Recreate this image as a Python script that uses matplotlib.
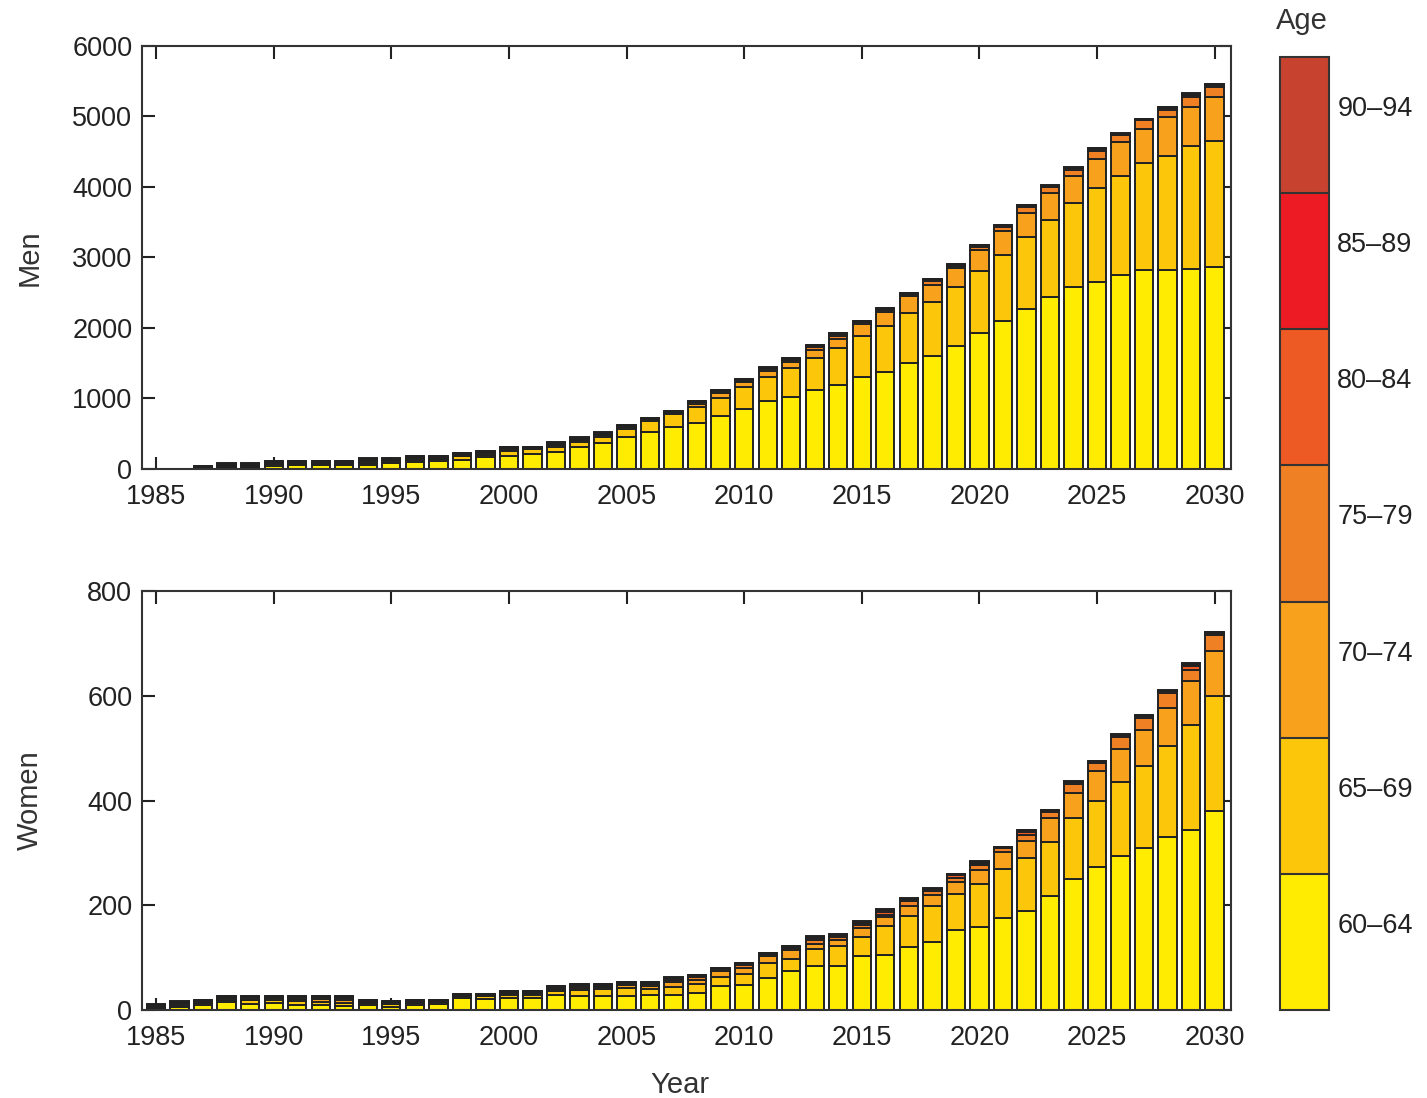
import numpy as np
import matplotlib.pyplot as plt
from matplotlib.colors import ListedColormap, BoundaryNorm
import matplotlib as mpl

plt.rcParams['font.family'] = ['Liberation Sans', 'DejaVu Sans']

years = np.arange(1985, 2031)
ages = ['60–64', '65–69', '70–74', '75–79', '80–84', '85–89', '90–94']
colors = ['#ffec00', '#fcc70a', '#f7a11c', '#f08024', '#ee5a24', '#ed1c24', '#c8432f']

# men, by age group (1985..2030)
men_60 = [0, 0, 15, 25, 25, 40, 50, 50, 50, 60, 80, 100, 110, 128, 165, 190, 213, 236, 307, 369,
          449, 520, 591, 648, 747, 851, 960, 1017, 1125, 1196, 1300, 1371, 1504, 1608, 1749, 1924,
          2104, 2270, 2444, 2577, 2657, 2757, 2823, 2823, 2832, 2861]
men_65 = [0, 0, 10, 15, 15, 30, 20, 20, 20, 30, 25, 30, 30, 60, 40, 60, 71, 81, 81, 90,
          118, 166, 189, 227, 260, 307, 350, 416, 445, 520, 591, 662, 704, 766, 837, 880,
          936, 1016, 1088, 1196, 1324, 1404, 1513, 1612, 1745, 1796]
men_70 = [0, 0, 8, 12, 12, 18, 15, 15, 15, 20, 18, 20, 15, 15, 20, 25, 15, 20, 20, 20,
          25, 20, 20, 45, 66, 71, 85, 89, 118, 128, 166, 189, 241, 241, 260, 302,
          341, 345, 383, 388, 416, 482, 487, 553, 562, 624]
men_75 = [0, 0, 6, 10, 10, 12, 10, 10, 10, 18, 12, 14, 12, 10, 12, 20, 9, 20, 20, 20,
          15, 8, 12, 25, 25, 25, 25, 30, 40, 45, 25, 35, 25, 45, 35, 46,
          56, 81, 80, 80, 109, 99, 127, 104, 142, 133]
men_80 = [0, 0, 4, 9, 9, 9, 7, 7, 7, 12, 8, 8, 7, 5, 7, 12, 5, 12, 12, 12,
          9, 5, 8, 12, 12, 13, 12, 13, 20, 25, 13, 15, 11, 20, 16, 18,
          18, 22, 18, 22, 28, 11, 9, 28, 28, 28]
men_85 = [0, 0, 2, 5, 5, 5, 4, 4, 4, 7, 5, 5, 4, 3, 4, 7, 3, 6, 6, 6,
          5, 3, 5, 8, 7, 7, 7, 6, 8, 11, 6, 8, 5, 10, 8, 8,
          8, 10, 8, 11, 13, 5, 4, 14, 14, 12]
men_90 = [0, 0, 2, 4, 4, 4, 3, 3, 3, 4, 3, 3, 2, 1, 2, 3, 1, 3, 3, 3,
          3, 1, 2, 4, 3, 3, 3, 3, 3, 4, 3, 4, 2, 5, 3, 4,
          3, 5, 3, 5, 6, 2, 2, 6, 7, 6]

# women, by age group (1985..2030)
women_60 = [3, 5, 10, 15, 12, 14, 10, 10, 8, 10, 6, 10, 12, 23, 22, 23, 23, 28, 27, 27,
            27, 28, 28, 32, 46, 47, 62, 74, 84, 85, 103, 106, 120, 130, 152, 158,
            176, 190, 218, 250, 273, 295, 310, 330, 343, 381]
women_65 = [2, 3, 4, 5, 7, 6, 7, 6, 6, 4, 5, 4, 4, 3, 4, 6, 6, 8, 12, 14,
            16, 13, 16, 17, 17, 21, 27, 24, 32, 37, 36, 55, 60, 68, 70, 83,
            93, 101, 102, 116, 126, 141, 156, 175, 202, 218]
women_70 = [2, 3, 2, 3, 3, 3, 5, 6, 5, 2, 2, 2, 2, 2, 2, 3, 3, 4, 4, 3,
            4, 5, 9, 9, 11, 13, 14, 16, 11, 11, 18, 17, 18, 22, 22, 27,
            32, 32, 46, 48, 58, 62, 69, 72, 84, 86]
women_75 = [1, 2, 2, 2, 2, 2, 2, 2, 4, 2, 2, 2, 1, 1, 1, 2, 2, 3, 3, 2,
            3, 4, 5, 5, 4, 5, 3, 5, 7, 6, 6, 4, 10, 7, 8, 8,
            8, 12, 13, 18, 14, 24, 23, 29, 20, 31]
women_80 = [1, 2, 1, 1, 1, 1, 1, 1, 2, 1, 1, 1, 1, 1, 1, 1, 1, 2, 2, 2,
            2, 2, 3, 2, 2, 2, 1, 2, 4, 4, 4, 6, 3, 4, 5, 5,
            2, 5, 2, 3, 3, 3, 4, 3, 8, 4]
women_85 = [1, 1, 1, 1, 1, 1, 1, 1, 1, 1, 1, 1, 0, 0, 0, 1, 1, 1, 1, 1,
            1, 1, 1, 1, 1, 1, 1, 1, 2, 1, 2, 3, 1, 1, 2, 2,
            1, 3, 1, 1, 1, 1, 1, 1, 4, 1]
women_90 = [1, 1, 0, 0, 1, 0, 1, 1, 1, 0, 0, 0, 0, 0, 0, 0, 0, 0, 0, 0,
            0, 0, 1, 1, 0, 1, 0, 0, 1, 1, 1, 1, 1, 1, 1, 1,
            0, 1, 0, 1, 1, 1, 1, 1, 1, 1]

men = [men_60, men_65, men_70, men_75, men_80, men_85, men_90]
women = [women_60, women_65, women_70, women_75, women_80, women_85, women_90]

fig = plt.figure(figsize=(14.27, 10.98), dpi=100)
ax1 = fig.add_axes([0.0995, 0.5729, 0.7632, 0.3852])
ax2 = fig.add_axes([0.0995, 0.0801, 0.7632, 0.3816])


def stack(ax, groups, ymax, step, label):
    bottom = np.zeros(len(years))
    for vals, c in zip(groups, colors):
        vals = np.array(vals, dtype=float)
        ax.bar(years, vals, width=0.78, bottom=bottom, color=c,
               edgecolor='#222222', linewidth=1.4)
        bottom += vals
    ax.set_xlim(1984.4, 2030.7)
    ax.set_ylim(0, ymax)
    ax.set_xticks(np.arange(1985, 2031, 5))
    ax.set_yticks(np.arange(0, ymax + 1, step))
    ax.set_axisbelow(True)
    ax.tick_params(direction='in', length=9, width=1.5, top=True, right=True,
                   labelsize=19.5, colors='#222222')
    ax.tick_params(axis='x', pad=11)
    ax.tick_params(axis='y', pad=7)
    for s in ax.spines.values():
        s.set_linewidth(1.5)
        s.set_color('#333333')
    ax.set_ylabel(label, fontsize=21, color='#333333')
    ax.yaxis.set_label_coords(-0.09, 0.5)


stack(ax1, men, 6000, 1000, 'Men')
stack(ax2, women, 800, 200, 'Women')
ax2.set_xlabel('Year', fontsize=21, color='#333333')
ax2.xaxis.set_label_coords(0.494, -0.146)

# age colour key
cax = fig.add_axes([0.897, 0.0801, 0.0343, 0.868])
cmap = ListedColormap(colors)
norm = BoundaryNorm(np.arange(8), cmap.N)
cb = mpl.colorbar.ColorbarBase(cax, cmap=cmap, norm=norm, ticks=np.arange(7) + 0.64)
cb.set_ticklabels(ages)
cb.outline.set_linewidth(1.5)
cb.outline.set_edgecolor('#333333')
cax.minorticks_off()
cax.tick_params(which='both', length=0, labelsize=19.5, pad=6, colors='#222222')
for b in range(1, 7):
    cax.axhline(b, color='#333333', linewidth=1.5)
cax.set_title('Age', fontsize=21, color='#333333', pad=20, x=0.45)

fig.savefig('out.png', dpi=100)
